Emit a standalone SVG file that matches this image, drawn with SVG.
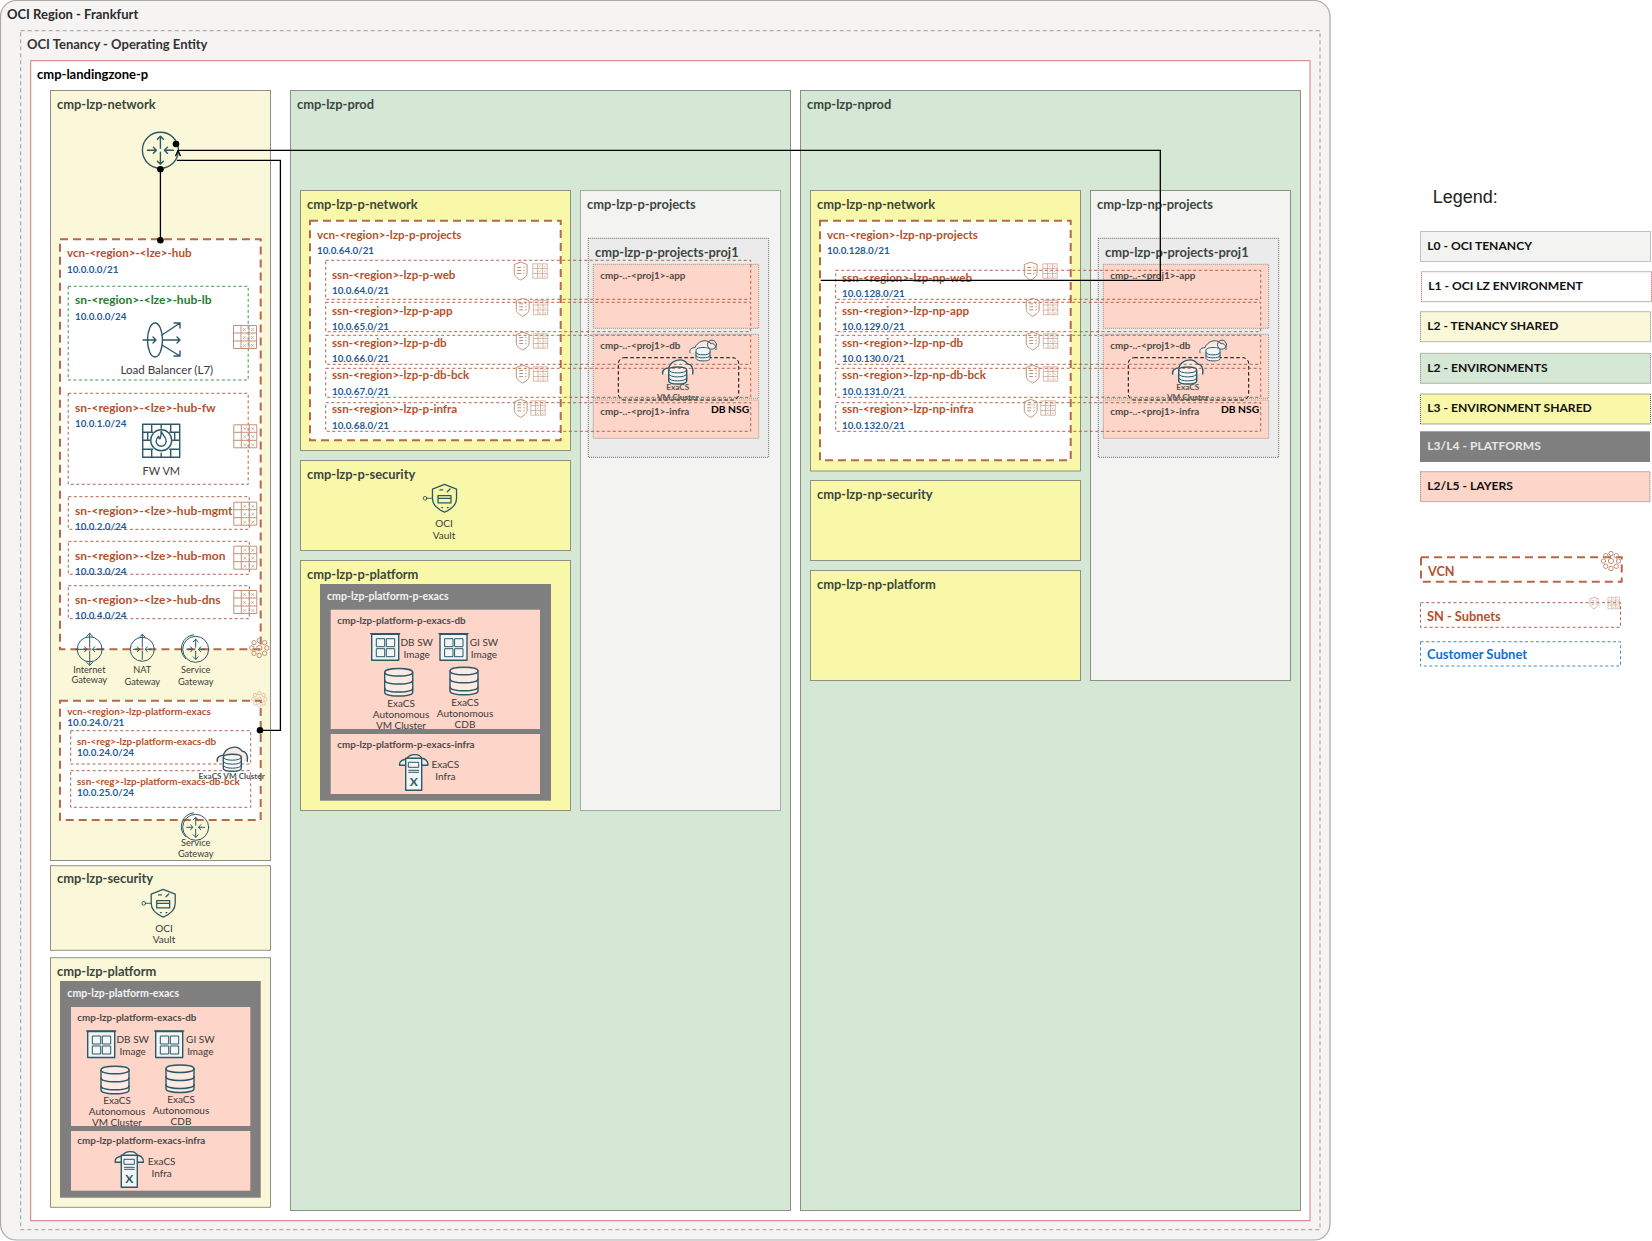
<svg xmlns="http://www.w3.org/2000/svg" xmlns:xlink="http://www.w3.org/1999/xlink" width="1652" height="1241" viewBox="0 0 1652 1241">
<style>
text{font-family:"Lato","Liberation Sans",sans-serif}
.t{font-weight:700;font-size:12.9px;fill:#3b463f}
.k{font-weight:700;font-size:13px;fill:#000}
.w{font-weight:700;font-size:10.6px;fill:#f4f4f4}
.l{font-weight:700;font-size:9.9px;fill:#4d4a48}
.v{font-weight:700;font-size:11.6px;fill:#b5512a}
.vh{font-weight:700;font-size:12px;fill:#b5512a}
.vs{font-weight:700;font-size:9.85px;fill:#b5512a}
.g{font-weight:700;font-size:12px;fill:#1e7d2d}
.ip{font-weight:700;font-size:9.8px;fill:#1f5a96}
.c{font-size:10px;fill:#3a3a3a;text-anchor:middle}
.s{font-size:9.2px;fill:#3a3a3a;text-anchor:middle}
.x{font-weight:700;font-size:12px;fill:#2c5967;text-anchor:middle}
.lg{font-weight:700;font-size:12.1px;fill:#111}
.nsg{font-weight:700;font-size:10.3px;fill:#000}
.cl{font-weight:700;font-size:8.2px;fill:#555;text-anchor:middle}
.box{stroke:#8f8f86;stroke-width:1}
.yl{fill:#fbf8d9}.gr{fill:#d5e7d5}.ye{fill:#f9f8a8}.pk{fill:#fdd5c9}.dk{fill:#7f7f7f}.lt{fill:#f3f3f1}
.vcn{fill:#fff;stroke:#b5694a;stroke-width:2;stroke-dasharray:8 5}
.sn{fill:none;stroke:#a8553a;stroke-width:.9;stroke-dasharray:3 2.5}
.i{fill:none;stroke:#2c5967;stroke-width:1.4;stroke-linecap:round;stroke-linejoin:round}
.i1{stroke-width:1}
.iw{fill:#f3f6f6}
.ip2{fill:#fdeae3}
.b{fill:none;stroke:#c39078;stroke-width:1}
.bt{stroke-width:.6}
.cn{fill:none;stroke:#000;stroke-width:1.3}
.d{fill:#000}
</style>
<defs>
<symbol id="table" viewBox="0 0 24 24" overflow="visible"><path class="b" d="M.5.5h23v23H.5zM.5 8h23M.5 16h23M8 .5v23M16 .5v23"/><path class="b bt" d="M10 3l3 3M13 3l-3 3M18 3l3 3M21 3l-3 3M10 11l3 3M13 11l-3 3M18 11l3 3M21 11l-3 3M10 19l3 3M13 19l-3 3M18 19l3 3M21 19l-3 3"/></symbol>
<symbol id="shield" viewBox="0 0 14 19" overflow="visible"><path class="b" d="M7 .6 13.4 3v8.5c0 3.2-3.4 5.6-6.4 7-3-1.4-6.4-3.8-6.4-7V3zM3.5 6h4M3.5 9h4M3.5 12h4M9.5 5.500l1.500 1M9.500 9h1.500M9.500 12.500l1.500-1"/></symbol>
<symbol id="flower" viewBox="-10 -10 20 20" overflow="visible"><g><circle class="b" cy="-7.5" r="2.2"/><circle class="b" cx="5.3" cy="-5.3" r="2.2"/><circle class="b" cx="7.5" r="2.2"/><circle class="b" cx="5.3" cy="5.3" r="2.2"/><circle class="b" cy="7.5" r="2.2"/><circle class="b" cx="-5.3" cy="5.3" r="2.2"/><circle class="b" cx="-7.5" r="2.2"/><circle class="b" cx="-5.3" cy="-5.3" r="2.2"/><circle class="b" r="2.6"/></g></symbol>
<symbol id="drg" viewBox="-19 -19 38 38" overflow="visible"><circle class="i" r="18"/><path class="i" d="M-13 0h9M-7-3l3 3-3 3M13 0H4M7-3 4 0l3 3M0-2v-12M-3-11l3-3 3 3M0 2v12M-3 11l3 3 3-3"/></symbol>
<symbol id="igw" viewBox="-17 -17 34 34" overflow="visible"><circle class="i i1" r="12.5"/><path class="i i1" d="M-14 0h11M-5-2.5l2 2.5-2 2.5M14 0H3M5-2.5 3 0l2 2.5M0-2v-14M-3-13l3-3 3 3M0 2v14M-3 13l3 3 3-3"/></symbol>
<symbol id="nat" viewBox="-15 -17 30 32" overflow="visible"><circle class="i i1" r="12"/><path class="i i1" d="M-9 0h6M-5-2.5l2 2.5-2 2.5M9 0H3M5-2.5 3 0l2 2.5M0-2v-13M-2.500-12.500l2.500-2.500 2.500 2.500M0 2v8"/></symbol>
<symbol id="sgw" viewBox="-20 -17 34 32" overflow="visible"><path class="i i1" d="M-2-14.500a14 14 0 0 0-8 24"/><circle class="i i1" r="13"/><path class="i i1" d="M-9 0h6M-5-2.500l2 2.500-2 2.500M9 0H3M5-2.500 3 0l2 2.500M0-2V-10M-2.500-7.500l2.500-2.500 2.500 2.500M0 2v8M-2.500 7.500l2.500 2.500 2.500-2.500"/></symbol>
<symbol id="cyl" viewBox="-15 -15 30 30" overflow="visible"><path class="i ip2" d="M-14-10c0-5 28-5 28 0v20c0 5-28 5-28 0z"/><path class="i" d="M-14-10c0 5 28 5 28 0M-14-2c0 5 28 5 28 0M-14 6c0 5 28 5 28 0"/></symbol>
<symbol id="img" viewBox="0 0 29 29" overflow="visible"><rect class="i iw" x="1" y="1.500" width="27" height="26"/><path class="i" d="M0 1h29"/><path class="i i1" d="M6 6h8v8H6zM16 6h8v8h-8zM6 16h8v8H6zM16 16h8v8h-8z"/></symbol>
<symbol id="infra" viewBox="-15 0 30 38" overflow="visible"><path class="i ip2" d="M-14 13c-1-5 5-6 7-6 2-5 12-7 15-1 3 0 7 3 6 7z"/><rect class="i iw" x="-8" y="6" width="16" height="32"/><path class="i i1" d="M-5 10h10v5H-5zM-5 18h10M-5 20h10"/></symbol>
<symbol id="vault" viewBox="-24 -15 40 30" overflow="visible"><path class="i" d="M0-15 13-10v10c0 7-6 12-13 15C-7 12-13 7-13 0v-10zM-7-3h14v8H-7zM-7 0h14M-5-9h3M3-7l3-3M-3 10h1M3 10h1"/><circle class="i i1" cx="-21" cy="0" r="2"/><path class="i i1" d="M-19 0h6"/></symbol>
<symbol id="fw" viewBox="0 0 39 35" overflow="visible"><path class="i" d="M1 1h37v33H1zM1 9h10M28 9h10M1 17h7M31 17h7M1 26h10M28 26h10M10 1v8M29 1v8M6 9v8M33 9v8M10 26v8M29 26v8M19.500 1v4M19.500 30v4"/><circle class="i" cx="19.500" cy="17" r="10.500" style="fill:#fff"/><path class="i" d="M19.500 8c1 3.500 5 5.500 5 10a5 5 0 0 1-10 0c0-2.500 1.300-4 2.500-5 0 1.300.600 2.500 1.300 2.500 1-2 1.200-4.500 1.200-7.500z"/></symbol>
<symbol id="lb" viewBox="0 0 40 36" overflow="visible"><ellipse class="i" cx="13" cy="18" rx="7.500" ry="17"/><path class="i" d="M1 18h13M11 15l3 3-3 3M21 18h17M35 15l3 3-3 3M20 13 38 1M32 1h6v5M20 23l18 11M32 34h6v-5"/></symbol>
<symbol id="cdb" viewBox="-16 -14 32 28" overflow="visible"><path class="i ip2" d="M-15 4c-1-4 3-6 6-6C-7-9 4-14 10-6c3 0 6 3 5 10"/><path class="i iw" d="M-9 0c0-4 18-4 18 0v11c0 4-18 4-18 0z"/><path class="i i1" d="M-9 0c0 4 18 4 18 0M-9 4c0 4 18 4 18 0M-9 8c0 4 18 4 18 0"/></symbol>
<symbol id="adb" viewBox="-14 -13 28 26" overflow="visible"><path class="i i1 ip2" d="M-13 3c-1-4 2-5 5-5C-6-8 3-12 8-6c3-1 6 3 5 6"/><circle class="i i1" cx="9" cy="-5" r="4.500"/><path class="i i1 iw" d="M-7 0c0-3 14-3 14 0v9c0 3-14 3-14 0z"/><path class="i i1" d="M-7 3c0 3 14 3 14 0M-7 6c0 3 14 3 14 0"/></symbol>
</defs>

<g id="region"><rect x=".5" y=".5" width="1329.500" height="1239.500" rx="16" fill="#f5f4f2" stroke="#aaa" stroke-width="1.200"/><text class="k" x="7" y="18.700" style="fill:#2a2a2a">OCI Region - Frankfurt</text></g>
<g id="tenancy"><rect x="20.700" y="30.700" width="1299.300" height="1199" fill="none" stroke="#888" stroke-width=".8" stroke-dasharray="4 3"/><text class="k" x="27" y="49.300" style="fill:#333">OCI Tenancy - Operating Entity</text></g>
<g id="landingzone"><rect x="30.700" y="60.700" width="1279.300" height="1160" fill="#fff" stroke="#d07a7a" stroke-width="1"/><text class="k" x="37" y="78.700">cmp-landingzone-p</text></g>

<g id="lzp-network"><rect class="box yl" x="50.500" y="90.500" width="220" height="770"/><text class="t" x="57" y="108.700">cmp-lzp-network</text></g>
<g id="lzp-security"><rect class="box yl" x="50.500" y="865.700" width="220" height="84.600"/><text class="t" x="57" y="883.300">cmp-lzp-security</text>
<use href="#vault" x="141" y="888.300" width="37" height="30"/><text class="c" x="164" y="931.700">OCI</text><text class="c" x="164" y="943.300">Vault</text></g>
<g id="lzp-platform"><rect class="box yl" x="50.500" y="957.700" width="220" height="249.600"/><text class="t" x="57" y="975.700">cmp-lzp-platform</text></g>
<g id="lzp-platform-exacs"><rect class="dk" x="60" y="981" width="200.700" height="216.700"/><text class="w" x="67.300" y="997.300">cmp-lzp-platform-exacs</text></g>
<g id="lzp-platform-exacs-db"><rect class="pk" x="71" y="1007" width="179.300" height="119"/><text class="l" x="77.300" y="1021">cmp-lzp-platform-exacs-db</text>
<use href="#img" x="86.700" y="1030" width="29" height="29"/><text class="c" x="132.700" y="1042.700">DB SW</text><text class="c" x="132.700" y="1055">Image</text>
<use href="#img" x="154.700" y="1030" width="29" height="29"/><text class="c" x="200.300" y="1042.700">GI SW</text><text class="c" x="200.300" y="1055">Image</text>
<use href="#cyl" x="100" y="1065" width="30" height="30"/><text class="c" x="117" y="1104">ExaCS</text><text class="c" x="117" y="1114.700">Autonomous</text><text class="c" x="117" y="1126">VM Cluster</text>
<use href="#cyl" x="165" y="1063.700" width="30" height="30"/><text class="c" x="181" y="1102.700">ExaCS</text><text class="c" x="181" y="1113.700">Autonomous</text><text class="c" x="181" y="1124.700">CDB</text></g>
<g id="lzp-platform-exacs-infra"><rect class="pk" x="71" y="1131" width="179.300" height="59.700"/><text class="l" x="77.300" y="1144.300">cmp-lzp-platform-exacs-infra</text>
<use href="#infra" x="114.300" y="1149.300" width="30" height="38"/><text class="x" x="129.300" y="1183">X</text><text class="c" x="161.700" y="1165">ExaCS</text><text class="c" x="161.700" y="1176.700">Infra</text></g>

<g id="vcn-hub"><rect class="vcn" x="60" y="239.300" width="200.700" height="410"/><text class="v" x="67" y="257.300">vcn-&lt;region&gt;-&lt;lze&gt;-hub</text><text class="ip" x="67" y="273">10.0.0.0/21</text></g>
<g id="sn-hub-lb"><rect class="sn" style="stroke:#2e8b3a" x="68.200" y="286.300" width="180" height="93.700"/><text class="g" x="75" y="304.300">sn-&lt;region&gt;-&lt;lze&gt;-hub-lb</text><text class="ip" x="75" y="320">10.0.0.0/24</text>
<use href="#lb" x="142" y="322" width="40" height="36"/><text class="c" style="font-size:11.600px" x="166.800" y="374">Load Balancer (L7)</text><use href="#table" x="233" y="325" width="24" height="24"/></g>
<g id="sn-hub-fw"><rect class="sn" x="68.200" y="393.300" width="180" height="91"/><text class="vh" x="75" y="411.700">sn-&lt;region&gt;-&lt;lze&gt;-hub-fw</text><text class="ip" x="75" y="426.500">10.0.1.0/24</text>
<use href="#fw" x="141.700" y="423.300" width="39" height="35"/><text class="c" style="font-size:11px" x="161.300" y="474.700">FW VM</text><use href="#table" x="233.300" y="424.300" width="24" height="24"/></g>
<g id="sn-hub-mgmt"><rect class="sn" x="68.300" y="496.700" width="181" height="32.600"/><text class="vh" x="75" y="514.700">sn-&lt;region&gt;-&lt;lze&gt;-hub-mgmt</text><text class="ip" x="75" y="530">10.0.2.0/24</text><use href="#table" x="233.300" y="501.700" width="24" height="24"/></g>
<g id="sn-hub-mon"><rect class="sn" x="68.300" y="541.300" width="181" height="33"/><text class="vh" x="75" y="560">sn-&lt;region&gt;-&lt;lze&gt;-hub-mon</text><text class="ip" x="75" y="575">10.0.3.0/24</text><use href="#table" x="233.300" y="545.700" width="24" height="24"/></g>
<g id="sn-hub-dns"><rect class="sn" x="68.300" y="585.700" width="181" height="33"/><text class="vh" x="75" y="603.700">sn-&lt;region&gt;-&lt;lze&gt;-hub-dns</text><text class="ip" x="75" y="619">10.0.4.0/24</text><use href="#table" x="233.300" y="590" width="24" height="24"/></g>
<g id="internet-gw"><use href="#igw" x="72.700" y="632.300" width="34" height="34"/><text class="s" x="89.300" y="672.700">Internet</text><text class="s" x="89.300" y="683.300">Gateway</text></g>
<g id="nat-gw"><use href="#nat" x="127.300" y="632.300" width="30" height="32"/><text class="s" x="142.300" y="673.300">NAT</text><text class="s" x="142.300" y="684.700">Gateway</text></g>
<g id="service-gw"><use href="#sgw" x="175.700" y="632.300" width="34" height="32"/><text class="s" x="195.700" y="673.300">Service</text><text class="s" x="195.700" y="684.700">Gateway</text></g>
<use href="#flower" x="249.300" y="638" width="20" height="20"/>

<g id="vcn-platform-exacs"><rect class="vcn" x="60" y="700.700" width="200.700" height="119.300"/><text class="vs" x="67.300" y="715">vcn-&lt;region&gt;-lzp-platform-exacs</text><text class="ip" x="67.300" y="725.700">10.0.24.0/21</text><use href="#flower" x="251.300" y="691.300" width="16" height="16" opacity=".6"/></g>
<g id="sn-platform-exacs-db"><rect class="sn" x="70.700" y="730.700" width="180" height="33.300"/><text class="vs" x="77" y="745">sn-&lt;reg&gt;-lzp-platform-exacs-db</text><text class="ip" x="77" y="755.700">10.0.24.0/24</text></g>
<g id="ssn-platform-exacs-db-bck"><rect class="sn" x="70.700" y="770.700" width="180" height="36.600"/><text class="vs" x="77" y="785">ssn-&lt;reg&gt;-lzp-platform-exacs-db-bck</text><text class="ip" x="77" y="795.700">10.0.25.0/24</text></g>
<g id="exacs-vm-cluster"><use href="#cdb" x="216.300" y="743.300" width="32" height="28"/><text class="cl" x="231.700" y="778.700">ExaCS VM Cluster</text></g>
<g id="service-gw-2"><use href="#sgw" x="175.700" y="810.300" width="34" height="32"/><text class="s" x="195.700" y="845.700">Service</text><text class="s" x="195.700" y="856.700">Gateway</text></g>
<g id="node-drg"><use href="#drg" x="141.400" y="131.300" width="38" height="38"/></g>

<!-- PROD -->
<g id="lzp-prod"><rect class="box gr" x="290.500" y="90.500" width="500" height="1120"/><text class="t" x="297" y="108.700">cmp-lzp-prod</text></g>
<g id="lzp-p-network"><rect class="box ye" x="300.500" y="190.500" width="270" height="260"/><text class="t" x="307" y="209">cmp-lzp-p-network</text></g>
<g id="lzp-p-security"><rect class="box ye" x="300.500" y="460.500" width="270" height="90"/><text class="t" x="307" y="478.700">cmp-lzp-p-security</text>
<use href="#vault" x="422.300" y="483.300" width="37" height="30"/><text class="c" x="444" y="526.700">OCI</text><text class="c" x="444" y="539">Vault</text></g>
<g id="lzp-p-platform"><rect class="box ye" x="300.500" y="560.500" width="270" height="250"/><text class="t" x="307" y="579">cmp-lzp-p-platform</text></g>
<g id="lzp-platform-p-exacs"><rect class="dk" x="320" y="584" width="231" height="216.700"/><text class="w" x="327" y="600.300">cmp-lzp-platform-p-exacs</text></g>
<g id="lzp-platform-p-exacs-db"><rect class="pk" x="330.700" y="609.700" width="209.300" height="119.300"/><text class="l" x="337.300" y="624">cmp-lzp-platform-p-exacs-db</text>
<use href="#img" x="370.700" y="632.700" width="29" height="29"/><text class="c" x="416.700" y="645.700">DB SW</text><text class="c" x="416.700" y="658">Image</text>
<use href="#img" x="439" y="632.700" width="29" height="29"/><text class="c" x="484" y="645.700">GI SW</text><text class="c" x="484" y="658">Image</text>
<use href="#cyl" x="383.700" y="667.300" width="30" height="30"/><text class="c" x="401" y="707">ExaCS</text><text class="c" x="401" y="718.300">Autonomous</text><text class="c" x="401" y="728.700">VM Cluster</text>
<use href="#cyl" x="449" y="666" width="30" height="30"/><text class="c" x="465" y="705.700">ExaCS</text><text class="c" x="465" y="717">Autonomous</text><text class="c" x="465" y="728">CDB</text></g>
<g id="lzp-platform-p-exacs-infra"><rect class="pk" x="330.700" y="734" width="209.300" height="60"/><text class="l" x="337.300" y="748">cmp-lzp-platform-p-exacs-infra</text>
<use href="#infra" x="398.700" y="752.300" width="30" height="38"/><text class="x" x="413.700" y="786">X</text><text class="c" x="445.300" y="768">ExaCS</text><text class="c" x="445.300" y="780">Infra</text></g>

<g id="lzp-p-projects"><rect class="lt" stroke="#666" stroke-dasharray="1 1" x="580.500" y="190.500" width="200" height="620"/><text class="t" x="587" y="209">cmp-lzp-p-projects</text></g>
<g id="lzp-p-projects-proj1"><rect fill="#ebebeb" stroke="#444" stroke-width=".8" stroke-dasharray="1 1" x="588.300" y="238.300" width="180.400" height="219"/><text class="t" x="595" y="256.700">cmp-lzp-p-projects-proj1</text></g>
<g id="p-proj1-app"><rect class="box pk" stroke-dasharray="1 1" x="593.300" y="264.300" width="165.400" height="64"/><text class="l" x="600.300" y="279">cmp-..-&lt;proj1&gt;-app</text></g>
<g id="p-proj1-db"><rect class="box pk" stroke-dasharray="1 1" x="593.300" y="334.300" width="165.400" height="64"/><text class="l" x="600.300" y="349">cmp-..-&lt;proj1&gt;-db</text></g>
<g id="p-proj1-infra"><rect class="box pk" stroke-dasharray="1 1" x="593.300" y="400" width="165.400" height="38.300"/><text class="l" x="600.300" y="415">cmp-..-&lt;proj1&gt;-infra</text></g>
<g id="p-db-nsg"><rect x="618.300" y="357.700" width="120.400" height="42.300" rx="6" fill="none" stroke="#000" stroke-width="1" stroke-dasharray="3.500 2.500"/><text class="nsg" x="711" y="413.300">DB NSG</text></g>
<g id="p-exacs-cluster"><use href="#cdb" x="661.700" y="356" width="32" height="28"/><use href="#adb" x="689" y="336.700" width="28" height="26"/><text class="cl" x="677.700" y="390">ExaCS</text><text class="cl" x="677.700" y="400">VM Cluster</text></g>

<g id="vcn-p-projects"><rect class="vcn" x="310" y="220.700" width="250.700" height="219.600"/><text class="v" x="317" y="238.700">vcn-&lt;region&gt;-lzp-p-projects</text><text class="ip" x="317" y="254">10.0.64.0/21</text></g>
<g id="ssn-p-web"><rect class="sn" x="325.700" y="260.300" width="425" height="39"/><text class="v" x="332" y="278.700">ssn-&lt;region&gt;-lzp-p-web</text><text class="ip" x="332" y="293.700">10.0.64.0/21</text><use href="#shield" x="513.700" y="261.500" width="14" height="19"/><use href="#table" x="532.500" y="263.500" width="15" height="15"/></g>
<g id="ssn-p-app"><rect class="sn" x="325.700" y="302.300" width="425" height="29.400"/><text class="v" x="332" y="314.700">ssn-&lt;region&gt;-lzp-p-app</text><text class="ip" x="332" y="330">10.0.65.0/21</text><use href="#shield" x="515.700" y="297.800" width="14" height="19"/><use href="#table" x="533" y="300" width="15" height="15"/></g>
<g id="ssn-p-db"><rect class="sn" x="325.700" y="335.300" width="425" height="29"/><text class="v" x="332" y="346.700">ssn-&lt;region&gt;-lzp-p-db</text><text class="ip" x="332" y="362">10.0.66.0/21</text><use href="#shield" x="515.700" y="331.500" width="14" height="19"/><use href="#table" x="533" y="333.500" width="15" height="15"/></g>
<g id="ssn-p-db-bck"><rect class="sn" x="325.700" y="368.300" width="425" height="29"/><text class="v" x="332" y="379.300">ssn-&lt;region&gt;-lzp-p-db-bck</text><text class="ip" x="332" y="395">10.0.67.0/21</text><use href="#shield" x="515.700" y="364.500" width="14" height="19"/><use href="#table" x="533" y="366.500" width="15" height="15"/></g>
<g id="ssn-p-infra"><rect class="sn" x="325.700" y="402.700" width="425" height="28.600"/><text class="v" x="332" y="413.300">ssn-&lt;region&gt;-lzp-p-infra</text><text class="ip" x="332" y="428.700">10.0.68.0/21</text><use href="#shield" x="513.700" y="398.800" width="14" height="19"/><use href="#table" x="530.500" y="400.500" width="15" height="15"/></g>

<!-- NPROD -->
<g id="lzp-nprod"><rect class="box gr" x="800.500" y="90.500" width="500" height="1120"/><text class="t" x="807" y="108.700">cmp-lzp-nprod</text></g>
<g id="lzp-np-network"><rect class="box ye" x="810.500" y="190.500" width="270" height="280.500"/><text class="t" x="817" y="209">cmp-lzp-np-network</text></g>
<g id="lzp-np-security"><rect class="box ye" x="810.500" y="480.500" width="270" height="80"/><text class="t" x="817" y="498.500">cmp-lzp-np-security</text></g>
<g id="lzp-np-platform"><rect class="box ye" x="810.500" y="570.500" width="270" height="110"/><text class="t" x="817" y="589">cmp-lzp-np-platform</text></g>
<g id="lzp-np-projects"><rect class="box lt" x="1090.500" y="190.500" width="200" height="490"/><text class="t" x="1097" y="209">cmp-lzp-np-projects</text></g>
<g id="np-projects-proj1"><rect fill="#ebebeb" stroke="#444" stroke-width=".8" stroke-dasharray="1 1" x="1098.300" y="238.300" width="180.400" height="219"/><text class="t" x="1105" y="256.700">cmp-lzp-p-projects-proj1</text></g>
<g id="np-proj1-app"><rect class="box pk" stroke-dasharray="1 1" x="1103.300" y="264.300" width="165.400" height="64"/><text class="l" x="1110.300" y="279">cmp-..-&lt;proj1&gt;-app</text></g>
<g id="np-proj1-db"><rect class="box pk" stroke-dasharray="1 1" x="1103.300" y="334.300" width="165.400" height="64"/><text class="l" x="1110.300" y="349">cmp-..-&lt;proj1&gt;-db</text></g>
<g id="np-proj1-infra"><rect class="box pk" stroke-dasharray="1 1" x="1103.300" y="400" width="165.400" height="38.300"/><text class="l" x="1110.300" y="415">cmp-..-&lt;proj1&gt;-infra</text></g>
<g id="np-db-nsg"><rect x="1128.300" y="357.700" width="120.400" height="42.300" rx="6" fill="none" stroke="#000" stroke-width="1" stroke-dasharray="3.500 2.500"/><text class="nsg" x="1221" y="413.300">DB NSG</text></g>
<g id="np-exacs-cluster"><use href="#cdb" x="1171.700" y="356" width="32" height="28"/><use href="#adb" x="1199" y="336.700" width="28" height="26"/><text class="cl" x="1187.700" y="390">ExaCS</text><text class="cl" x="1187.700" y="400">VM Cluster</text></g>

<g id="vcn-np-projects"><rect class="vcn" x="820" y="220.700" width="250.700" height="239.600"/><text class="v" x="827" y="238.700">vcn-&lt;region&gt;-lzp-np-projects</text><text class="ip" x="827" y="254">10.0.128.0/21</text></g>
<g id="ssn-np-web"><rect class="sn" x="835.700" y="270.300" width="425" height="29"/><text class="v" x="842" y="281.700">ssn-&lt;region&gt;-lzp-np-web</text><text class="ip" x="842" y="296.700">10.0.128.0/21</text><use href="#shield" x="1023.700" y="261.500" width="14" height="19"/><use href="#table" x="1042.500" y="263.500" width="15" height="15"/></g>
<g id="ssn-np-app"><rect class="sn" x="835.700" y="302.300" width="425" height="29.400"/><text class="v" x="842" y="314.700">ssn-&lt;region&gt;-lzp-np-app</text><text class="ip" x="842" y="330">10.0.129.0/21</text><use href="#shield" x="1025.700" y="297.800" width="14" height="19"/><use href="#table" x="1043" y="300" width="15" height="15"/></g>
<g id="ssn-np-db"><rect class="sn" x="835.700" y="335.300" width="425" height="29"/><text class="v" x="842" y="346.700">ssn-&lt;region&gt;-lzp-np-db</text><text class="ip" x="842" y="362">10.0.130.0/21</text><use href="#shield" x="1025.700" y="331.500" width="14" height="19"/><use href="#table" x="1043" y="333.500" width="15" height="15"/></g>
<g id="ssn-np-db-bck"><rect class="sn" x="835.700" y="368.300" width="425" height="29"/><text class="v" x="842" y="379.300">ssn-&lt;region&gt;-lzp-np-db-bck</text><text class="ip" x="842" y="395">10.0.131.0/21</text><use href="#shield" x="1025.700" y="364.500" width="14" height="19"/><use href="#table" x="1043" y="366.500" width="15" height="15"/></g>
<g id="ssn-np-infra"><rect class="sn" x="835.700" y="402.700" width="425" height="28.600"/><text class="v" x="842" y="413.300">ssn-&lt;region&gt;-lzp-np-infra</text><text class="ip" x="842" y="428.700">10.0.132.0/21</text><use href="#shield" x="1023.700" y="398.800" width="14" height="19"/><use href="#table" x="1040.500" y="400.500" width="15" height="15"/></g>

<!-- Connectors -->
<g id="connectors">
<path class="cn" d="M160.400 169.300V240.300"/>
<path class="cn" d="M176.800 160.300H280.400V730.300H260"/>
<path class="cn" d="M820.700 280.300H1160.300V150.300H178"/>
<path class="cn" d="M178 150.300l-2.500 6M178 150.300l2.500 6"/>
<circle class="d" cx="176" cy="144" r="3.300"/><circle class="d" cx="160.400" cy="169.300" r="3.300"/><circle class="d" cx="160.400" cy="240.300" r="3.300"/><circle class="d" cx="260" cy="730.300" r="3.300"/>
</g>

<!-- Legend -->
<g id="legend">
<text x="1432.700" y="203.300" style="font-family:'Liberation Sans',sans-serif;font-size:18px;fill:#222">Legend:</text>
<g id="lg-l0"><rect class="lt" stroke="#888" stroke-dasharray="1 1" x="1420.500" y="231.500" width="230" height="30"/><text class="lg" x="1427.300" y="250">L0 - OCI TENANCY</text></g>
<g id="lg-l1"><rect fill="#fff" stroke="#c05050" stroke-dasharray="1 1" x="1421.500" y="271.700" width="230" height="30"/><text class="lg" x="1428.300" y="290">L1 - OCI LZ ENVIRONMENT</text></g>
<g id="lg-l2a"><rect class="yl" stroke="#777" stroke-dasharray="1 1" x="1420.500" y="311.700" width="230" height="30"/><text class="lg" x="1427.300" y="330">L2 - TENANCY SHARED</text></g>
<g id="lg-l2b"><rect class="gr" stroke="#777" stroke-dasharray="1 1" x="1420.500" y="353.300" width="230" height="30"/><text class="lg" x="1427.300" y="372">L2 - ENVIRONMENTS</text></g>
<g id="lg-l3"><rect class="ye" stroke="#555" stroke-dasharray="1 1" x="1420.500" y="394" width="230" height="30"/><text class="lg" x="1427.300" y="412">L3 - ENVIRONMENT SHARED</text></g>
<g id="lg-l34"><rect class="dk" x="1420" y="431.300" width="230" height="30.700"/><text class="lg" style="fill:#e8e8e8" x="1427.300" y="450">L3/L4 - PLATFORMS</text></g>
<g id="lg-l25"><rect class="pk" stroke="#777" stroke-dasharray="1 1" x="1420.500" y="471.700" width="229.500" height="30"/><text class="lg" x="1427.300" y="490">L2/L5 - LAYERS</text></g>
<g id="lg-vcn"><rect class="vcn" x="1421" y="557.300" width="200.700" height="24.400"/><text class="v" style="font-size:12.600px" x="1428" y="576">VCN</text><use href="#flower" x="1601" y="551" width="20" height="20"/></g>
<g id="lg-sn"><rect class="sn" x="1420.500" y="602.700" width="200" height="24.600"/><text class="v" style="font-size:12.800px" x="1427" y="620.700">SN - Subnets</text><use href="#shield" x="1589.500" y="597" width="9" height="12"/><use href="#table" x="1607.700" y="597" width="12" height="12"/></g>
<g id="lg-cs"><rect class="sn" style="stroke:#2a80d0" x="1420.500" y="641.700" width="200" height="24.300"/><text class="v" style="font-size:13px;fill:#0b72d9" x="1427" y="659.300">Customer Subnet</text></g>
</g>
</svg>
